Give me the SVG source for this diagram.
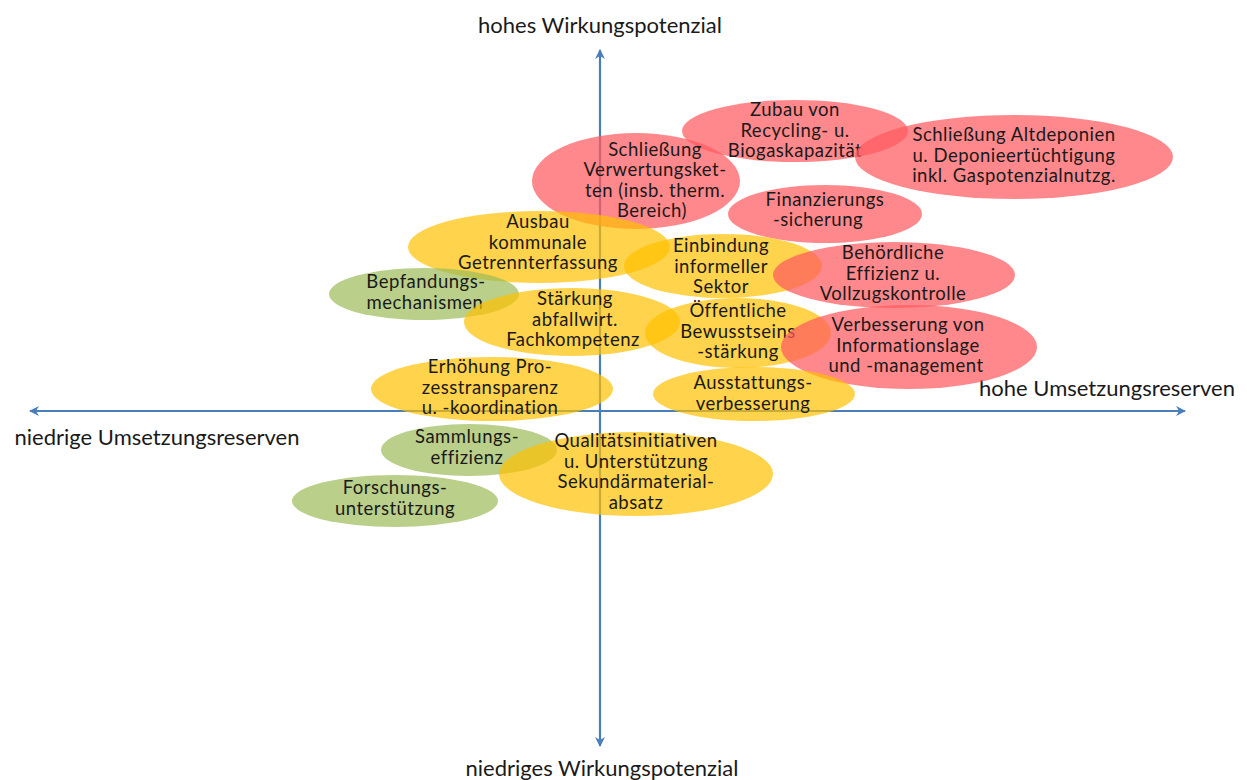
<svg xmlns="http://www.w3.org/2000/svg" width="1247" height="780" viewBox="0 0 1247 780">
<style>
.t{font-family:Lato,"Open Sans","Liberation Sans",sans-serif;font-size:18.5px;letter-spacing:0.5px;fill:#1a1a1a;text-anchor:middle}
.ax{font-family:Lato,"Open Sans","Liberation Sans",sans-serif;font-size:22px;fill:#1a1a1a;text-anchor:middle}
.r{fill:#FF5A5F;fill-opacity:0.72}
.y{fill:#FFC000;fill-opacity:0.7}
.g{fill:#9BBB59;fill-opacity:0.7}
.axis{stroke:#4A7EBB;stroke-width:2.2;fill:none}
</style>
<defs>
<marker id="ah" viewBox="0 0 10 10" refX="9" refY="5" markerWidth="10" markerHeight="10" orient="auto-start-reverse" markerUnits="userSpaceOnUse">
<path d="M0,0 L10,5 L0,10 L3,5 Z" fill="#4A7EBB"/>
</marker>
</defs>
<rect width="1247" height="780" fill="#fff"/>
<g id="connectors">
<line class="axis" x1="600" y1="746" x2="600" y2="50" marker-start="url(#ah)" marker-end="url(#ah)"/>
<line class="axis" x1="30" y1="411" x2="1185" y2="411" marker-start="url(#ah)" marker-end="url(#ah)"/>
</g>
<g id="axis-labels">
<text class="ax" x="600" y="33">hohes Wirkungspotenzial</text>
<text class="ax" x="602" y="776">niedriges Wirkungspotenzial</text>
<text class="ax" x="157" y="445">niedrige Umsetzungsreserven</text>
<text class="ax" x="1107" y="396">hohe Umsetzungsreserven</text>
</g>
<g id="n-zubau"><ellipse class="r" cx="795" cy="131" rx="113" ry="31"/><text class="t"><tspan x="795" y="116">Zubau von</tspan><tspan x="795" y="136.5">Recycling- u.</tspan><tspan x="795" y="157">Biogaskapazität</tspan></text></g>
<g id="n-altdeponien"><ellipse class="r" cx="1014" cy="157" rx="159" ry="42"/><text class="t"><tspan x="1014" y="141">Schließung Altdeponien</tspan><tspan x="1014" y="161.5">u. Deponieertüchtigung</tspan><tspan x="1014" y="182">inkl. Gaspotenzialnutzg.</tspan></text></g>
<g id="n-verwertung"><ellipse class="r" cx="636" cy="181" rx="104" ry="48"/><text class="t"><tspan x="655" y="155.5">Schließung</tspan><tspan x="655" y="176">Verwertungsket-</tspan><tspan x="655" y="196.5">ten (insb. therm.</tspan><tspan x="652" y="217">Bereich)</tspan></text></g>
<g id="n-finanzierung"><ellipse class="r" cx="825" cy="214" rx="97" ry="29"/><text class="t"><tspan x="825" y="205.5">Finanzierungs</tspan><tspan x="818" y="226">-sicherung</tspan></text></g>
<g id="n-ausbau"><ellipse class="y" cx="539" cy="247" rx="131" ry="36"/><text class="t"><tspan x="538" y="228">Ausbau</tspan><tspan x="538" y="248.5">kommunale</tspan><tspan x="538" y="269">Getrennterfassung</tspan></text></g>
<g id="n-einbindung"><ellipse class="y" cx="723" cy="266" rx="99" ry="32"/><text class="t"><tspan x="721" y="252">Einbindung</tspan><tspan x="721" y="272.5">informeller</tspan><tspan x="721" y="293">Sektor</tspan></text></g>
<g id="n-behoerdlich"><ellipse class="r" cx="894" cy="275" rx="121" ry="33"/><text class="t"><tspan x="893" y="259">Behördliche</tspan><tspan x="893" y="279.5">Effizienz u.</tspan><tspan x="893" y="300">Vollzugskontrolle</tspan></text></g>
<g id="n-bepfandung"><ellipse class="g" cx="424" cy="294" rx="95" ry="26"/><text class="t"><tspan x="426" y="288">Bepfandungs-</tspan><tspan x="425" y="308.5">mechanismen</tspan></text></g>
<g id="n-staerkung"><ellipse class="y" cx="572" cy="322" rx="108" ry="34"/><text class="t"><tspan x="575" y="305">Stärkung</tspan><tspan x="575" y="325.5">abfallwirt.</tspan><tspan x="573" y="346">Fachkompetenz</tspan></text></g>
<g id="n-oeffentlich"><ellipse class="y" cx="738" cy="333" rx="93" ry="35"/><text class="t"><tspan x="738" y="317">Öffentliche</tspan><tspan x="738" y="337.5">Bewusstseins</tspan><tspan x="738" y="358">-stärkung</tspan></text></g>
<g id="n-information"><ellipse class="r" cx="909" cy="347" rx="128" ry="42"/><text class="t"><tspan x="908" y="331">Verbesserung von</tspan><tspan x="908" y="351.5">Informationslage</tspan><tspan x="906" y="372">und -management</tspan></text></g>
<g id="n-erhoehung"><ellipse class="y" cx="492" cy="389" rx="121" ry="32"/><text class="t"><tspan x="490" y="373">Erhöhung Pro-</tspan><tspan x="490" y="393.5">zesstransparenz</tspan><tspan x="490" y="414">u. -koordination</tspan></text></g>
<g id="n-ausstattung"><ellipse class="y" cx="754" cy="394" rx="101" ry="27"/><text class="t"><tspan x="753" y="389">Ausstattungs-</tspan><tspan x="753" y="409.5">verbesserung</tspan></text></g>
<g id="n-sammlung"><ellipse class="g" cx="469" cy="450" rx="88" ry="26"/><text class="t"><tspan x="467" y="443">Sammlungs-</tspan><tspan x="467" y="463.5">effizienz</tspan></text></g>
<g id="n-qualitaet"><ellipse class="y" cx="636" cy="474" rx="137" ry="42"/><text class="t"><tspan x="636" y="447">Qualitätsinitiativen</tspan><tspan x="636" y="467.5">u. Unterstützung</tspan><tspan x="636" y="488">Sekundärmaterial-</tspan><tspan x="636" y="508.5">absatz</tspan></text></g>
<g id="n-forschung"><ellipse class="g" cx="395" cy="501" rx="103" ry="26"/><text class="t"><tspan x="395" y="494">Forschungs-</tspan><tspan x="395" y="514.5">unterstützung</tspan></text></g>
</svg>
